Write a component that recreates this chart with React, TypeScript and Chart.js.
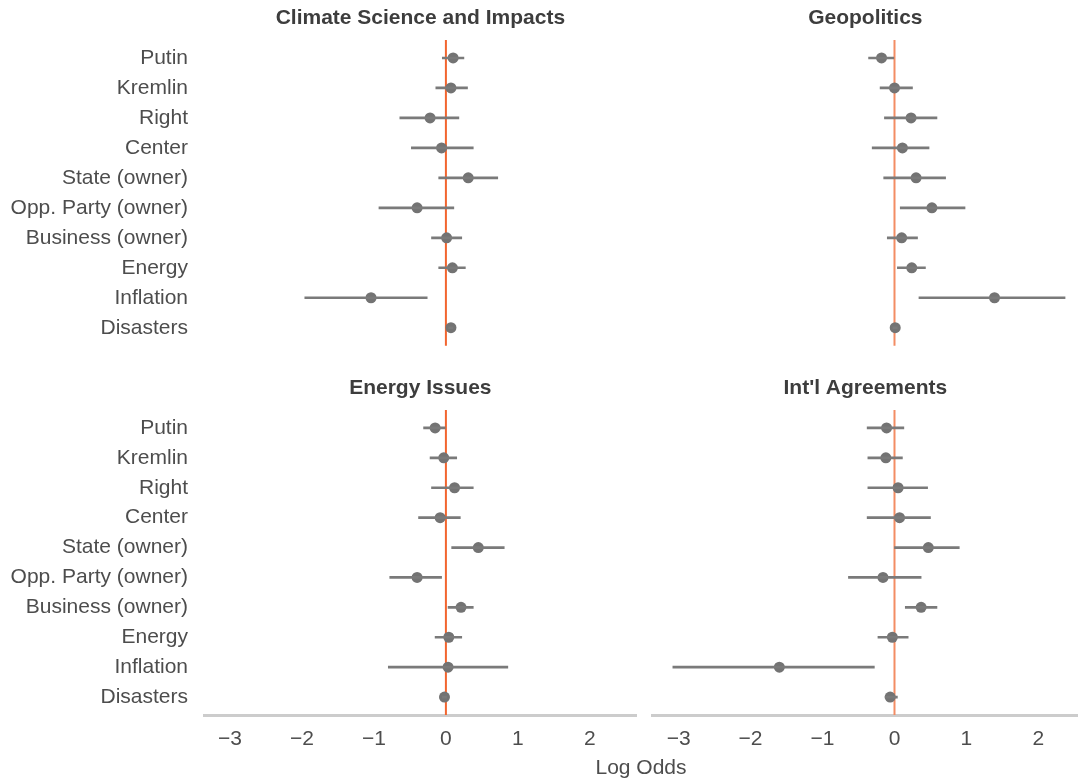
import React, { useEffect, useRef } from "react";
import { Chart, registerables } from "chart.js";

Chart.register(...registerables);

const categories = [
  "Putin",
  "Kremlin",
  "Right",
  "Center",
  "State (owner)",
  "Opp. Party (owner)",
  "Business (owner)",
  "Energy",
  "Inflation",
  "Disasters",
];

const xTicks = [-3, -2, -1, 0, 1, 2];

const climateEst = [0.1, 0.07, -0.22, -0.06, 0.31, -0.4, 0.01, 0.09, -1.04, 0.07];
const climateLo = [-0.05, -0.14, -0.64, -0.48, -0.1, -0.93, -0.2, -0.1, -1.96, 0.04];
const climateHi = [0.25, 0.3, 0.18, 0.38, 0.72, 0.11, 0.22, 0.27, -0.26, 0.1];

const geoEst = [-0.18, 0.0, 0.23, 0.11, 0.3, 0.52, 0.1, 0.24, 1.39, 0.01];
const geoLo = [-0.36, -0.2, -0.14, -0.31, -0.15, 0.08, -0.1, 0.04, 0.34, -0.02];
const geoHi = [-0.01, 0.25, 0.59, 0.48, 0.71, 0.98, 0.32, 0.43, 2.37, 0.04];

const energyEst = [-0.15, -0.03, 0.12, -0.08, 0.45, -0.4, 0.21, 0.04, 0.03, -0.02];
const energyLo = [-0.31, -0.22, -0.2, -0.38, 0.08, -0.78, 0.03, -0.15, -0.8, -0.05];
const energyHi = [-0.01, 0.15, 0.38, 0.2, 0.81, -0.06, 0.38, 0.22, 0.86, 0.01];

const intlEst = [-0.11, -0.12, 0.05, 0.07, 0.47, -0.16, 0.37, -0.03, -1.6, -0.06];
const intlLo = [-0.38, -0.37, -0.37, -0.38, 0.0, -0.64, 0.15, -0.23, -3.08, -0.13];
const intlHi = [0.13, 0.11, 0.46, 0.5, 0.9, 0.37, 0.59, 0.19, -0.28, 0.04];

const FONT = '"Liberation Sans", Arial, Helvetica, sans-serif';

type Panel = {
  title: string;
  est: number[];
  lo: number[];
  hi: number[];
  left: number;
  top: number;
  width: number;
  height: number;
  showY: boolean;
  showX: boolean;
  xMax: number;
  lineColor: string;
  titleY: number;
};

const panels: Panel[] = [
  { title: "Climate Science and Impacts", est: climateEst, lo: climateLo, hi: climateHi, left: 0, top: 0, width: 640, height: 350, showY: true, showX: false, xMax: 2.65, lineColor: "#f2652f", titleY: 24 },
  { title: "Geopolitics", est: geoEst, lo: geoLo, hi: geoHi, left: 645, top: 0, width: 433, height: 350, showY: false, showX: false, xMax: 2.55, lineColor: "#f38d64", titleY: 24 },
  { title: "Energy Issues", est: energyEst, lo: energyLo, hi: energyHi, left: 0, top: 370, width: 640, height: 410, showY: true, showX: true, xMax: 2.65, lineColor: "#f2652f", titleY: 23.5 },
  { title: "Int'l Agreements", est: intlEst, lo: intlLo, hi: intlHi, left: 645, top: 370, width: 433, height: 410, showY: false, showX: true, xMax: 2.55, lineColor: "#f38d64", titleY: 23.5 },
];

function zeroPadding(s: any) {
  s.paddingTop = 0;
  s.paddingBottom = 0;
  s.paddingLeft = 0;
  s.paddingRight = 0;
}

function PanelChart({ p }: { p: Panel }) {
  const ref = useRef<HTMLCanvasElement | null>(null);
  useEffect(() => {
    if (!ref.current) return;
    const refLine = {
      id: "refLine",
      beforeDatasetsDraw(chart: any) {
        const ctx = chart.ctx;
        const ca = chart.chartArea;
        const x = chart.scales.x.getPixelForValue(0);
        ctx.save();
        ctx.strokeStyle = p.lineColor;
        ctx.lineWidth = 2;
        ctx.beginPath();
        ctx.moveTo(x, ca.top);
        ctx.lineTo(x, ca.bottom);
        ctx.stroke();
        ctx.restore();
      },
    };
    const titlePlugin = {
      id: "panelTitle",
      afterDraw(chart: any) {
        const ctx = chart.ctx;
        const ca = chart.chartArea;
        ctx.save();
        ctx.font = `bold 21px ${FONT}`;
        ctx.fillStyle = "#3d3d3d";
        ctx.textAlign = "center";
        ctx.textBaseline = "alphabetic";
        ctx.fillText(p.title, (ca.left + ca.right) / 2, p.titleY);
        ctx.restore();
      },
    };
    const chart = new Chart(ref.current, {
      type: "scatter",
      data: {
        datasets: [
          {
            type: "bar",
            indexAxis: "y",
            data: categories.map((_, i) => ({ y: i, x: [p.lo[i], p.hi[i]] })),
            backgroundColor: "#7a7a7a",
            barThickness: 2,
            borderWidth: 0,
          } as any,
          {
            type: "scatter",
            data: categories.map((_, i) => ({ x: p.est[i], y: i })),
            backgroundColor: "#737373",
            borderWidth: 0,
            pointRadius: 5.5,
            pointHoverRadius: 5.5,
          } as any,
        ],
      },
      options: {
        responsive: false,
        animation: false,
        events: [],
        layout: {
          autoPadding: false,
          padding: {
            top: 40,
            bottom: p.showX ? 0 : 4.3,
            left: p.showY ? 0 : 7.7,
            right: p.showY ? 3.3 : 0,
          },
        },
        plugins: {
          legend: { display: false },
          tooltip: { enabled: false },
          title: { display: false },
        },
        scales: {
          x: {
            type: "linear",
            min: -3.36,
            max: p.xMax,
            display: p.showX,
            offset: false,
            grid: { display: false, drawTicks: false },
            border: { display: true, color: "#cccccc", width: 3 },
            afterBuildTicks: (s: any) => {
              s.ticks = xTicks.map((v) => ({ value: v }));
            },
            afterFit: (s: any) => {
              if (p.showX) s.height = 65;
              zeroPadding(s);
            },
            ticks: {
              padding: 12,
              autoSkip: false,
              maxRotation: 0,
              color: "#4d4d4d",
              font: { family: FONT, size: 21 },
              callback: (v: any) => (v < 0 ? "\u2212" + Math.abs(v) : String(v)),
            },
          },
          y: {
            type: "linear",
            min: -0.6,
            max: 9.6,
            reverse: true,
            offset: false,
            display: p.showY,
            grid: { display: false, drawTicks: false },
            border: { display: false },
            afterBuildTicks: (s: any) => {
              s.ticks = categories.map((_, i) => ({ value: i }));
            },
            afterFit: (s: any) => {
              if (p.showY) s.width = 204;
              zeroPadding(s);
            },
            ticks: {
              padding: 16,
              autoSkip: false,
              color: "#4d4d4d",
              font: { family: FONT, size: 21 },
              callback: (v: any) => categories[Math.round(v)] ?? "",
            },
          },
        },
      },
      plugins: [refLine, titlePlugin],
    } as any);
    return () => chart.destroy();
  }, [p]);
  return (
    <canvas
      ref={ref}
      width={p.width}
      height={p.height}
      style={{ position: "absolute", left: p.left, top: p.top, width: p.width, height: p.height }}
    />
  );
}

export default function App() {
  return (
    <div style={{ position: "absolute", left: 0, top: 0, width: 1078, height: 780, background: "#ffffff", overflow: "hidden" }}>
      {panels.map((p) => (
        <PanelChart key={p.title} p={p} />
      ))}
      <div
        style={{
          position: "absolute",
          left: 541,
          top: 755,
          width: 200,
          textAlign: "center",
          fontFamily: FONT,
          fontSize: 21,
          lineHeight: "24px",
          color: "#4d4d4d",
        }}
      >
        Log Odds
      </div>
    </div>
  );
}
